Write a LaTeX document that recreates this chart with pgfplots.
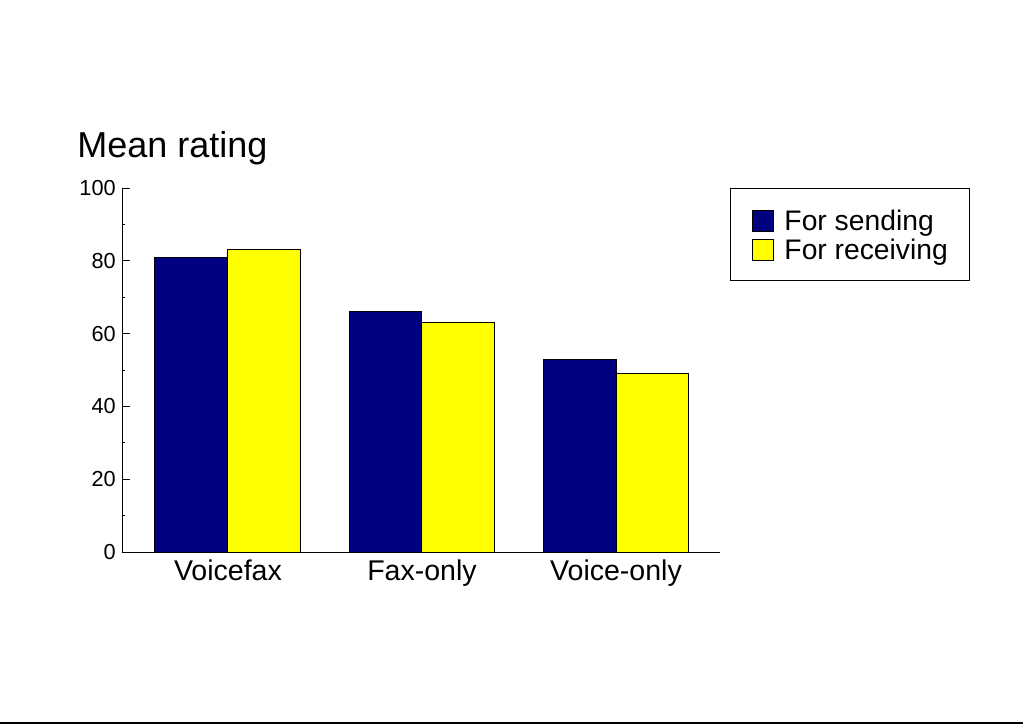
\documentclass[border=0pt]{standalone}
\usepackage{fontspec}
\setmainfont{Liberation Sans}
\usepackage{pgfplots}
\pgfplotsset{compat=1.18}
\definecolor{navybar}{RGB}{0,0,128}
\definecolor{yellowbar}{RGB}{255,255,0}
\begin{document}
\begin{tikzpicture}
\path[use as bounding box] (0,0) rectangle (767.25pt,544.5pt);
\begin{axis}[
  at={(91.5pt,130.5pt)}, anchor=south west,
  scale only axis, width=448.5pt, height=273pt,
  ybar, bar width=0.376,
  xmin=-0.546, xmax=2.536, ymin=0, ymax=100,
  axis x line*=bottom, axis y line*=left,
  axis line style={-, line width=0.75pt},
  xtick={0,1,2}, xticklabels={Voicefax,Fax-only,Voice-only},
  xtick style={draw=none},
  xticklabel style={font=\fontsize{21.4}{25}\selectfont, inner sep=0pt, yshift=-5.5pt},
  ytick={0,20,40,60,80,100}, minor y tick num=1,
  tick align=inside,
  major tick length=6pt, minor tick length=2.5pt,
  ytick style={line width=0.75pt, black},
  yticklabel style={font=\fontsize{16.3}{19}\selectfont, inner sep=0pt, xshift=-4.5pt},
  /pgf/number format/assume math mode=true,
  legend style={draw=black, line width=0.75pt, at={(rel axis cs:1.0167,1)}, anchor=north west,
    inner xsep=16.5pt, inner ysep=14.25pt, font=\fontsize{21.2}{25}\selectfont,
    row sep=3pt,
    nodes={inner sep=0pt, text height=17.25pt, text depth=1.5pt, anchor=base west},
    /tikz/every odd column/.append style={column sep=7.5pt}},
  legend cell align=left,
  legend image code/.code={\draw[#1,draw=black,line width=0.75pt] (0pt,-0.75pt) rectangle (15.75pt,15pt);},
]
\addplot[fill=navybar, draw=black, line width=0.75pt, bar shift=-0.188] coordinates {(0,81) (1,66) (2,53)};
\addlegendentry{For sending}
\addplot[fill=yellowbar, draw=black, line width=0.75pt, bar shift=0.188] coordinates {(0,83) (1,63) (2,49)};
\addlegendentry{For receiving}
\end{axis}
\node[anchor=base west, inner sep=0pt, font=\fontsize{27}{31}\selectfont] at (57.75pt,426pt) {Mean rating};
\draw[line width=1.5pt] (0,2.25pt) -- (767.25pt,2.25pt);
\end{tikzpicture}
\end{document}
